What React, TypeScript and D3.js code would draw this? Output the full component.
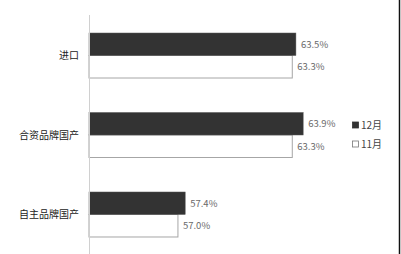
import React from "react";
import * as d3 from "d3";

const categories = ["进口", "合资品牌国产", "自主品牌国产"];
const dec = [63.5, 63.9, 57.4];
const nov = [63.3, 63.3, 57.0];
const seriesNames = ["12月", "11月"];

const W = 401;
const H = 254;

export default function App() {
  const x = d3.scaleLinear().domain([52.1, 68]).range([89, 89 + 15.9 * 18.15]);
  const y = d3.scaleBand<string>().domain(categories).range([16, 254]).paddingInner(0.434).paddingOuter(0.214);
  const inner = d3.scaleBand<string>().domain(seriesNames).range([0, y.bandwidth()]);
  const font = "'Noto Sans CJK SC', 'Noto Sans', sans-serif";

  return (
    <svg width={W} height={H} style={{ position: "absolute", left: 0, top: 0, background: "#fff" }}>
      <rect x={0} y={0} width={W} height={H} fill="#fff" />
      <line x1={399.5} x2={399.5} y1={0} y2={H} stroke="#111" strokeWidth={1.5} />
      {categories.map((c, i) => {
        const y0 = y(c)!;
        const yd = y0 + inner("12月")!;
        const yn = y0 + inner("11月")!;
        const bh = inner.bandwidth();
        return (
          <g key={c}>
            <rect x={x(52.1)} y={yn} width={x(nov[i]) - x(52.1)} height={bh} fill="#fff" stroke="#a6a6a6" strokeWidth={1} />
            <rect x={x(52.1)} y={yd} width={x(dec[i]) - x(52.1)} height={bh} fill="#333" stroke="#555" strokeWidth={0.5} />
            <text x={x(dec[i]) + 5} y={yd + bh / 2} dy="0.35em" fontSize={9.5} fill="#6a6a6a" fontFamily={font}>
              {dec[i].toFixed(1)}%
            </text>
            <text x={x(nov[i]) + 5} y={yn + bh / 2} dy="0.35em" fontSize={9.5} fill="#6a6a6a" fontFamily={font}>
              {nov[i].toFixed(1)}%
            </text>
            <text x={79} y={y0 + y.bandwidth() / 2} dy="0.35em" textAnchor="end" fontSize={10} fill="#222" fontFamily={font}>
              {c}
            </text>
          </g>
        );
      })}
      <line x1={89.5} x2={89.5} y1={15} y2={H} stroke="#d0d0d0" strokeWidth={1} />
      {seriesNames.map((s, i) => (
        <g key={s} transform={`translate(352, ${125 + i * 19})`}>
          <rect x={0.5} y={-3} width={6} height={6} fill={i === 0 ? "#333" : "#fff"} stroke={i === 0 ? "#333" : "#777"} strokeWidth={0.8} />
          <text x={9} y={0} dy="0.35em" fontSize={10} fill="#444" fontFamily={font}>
            {s}
          </text>
        </g>
      ))}
    </svg>
  );
}
